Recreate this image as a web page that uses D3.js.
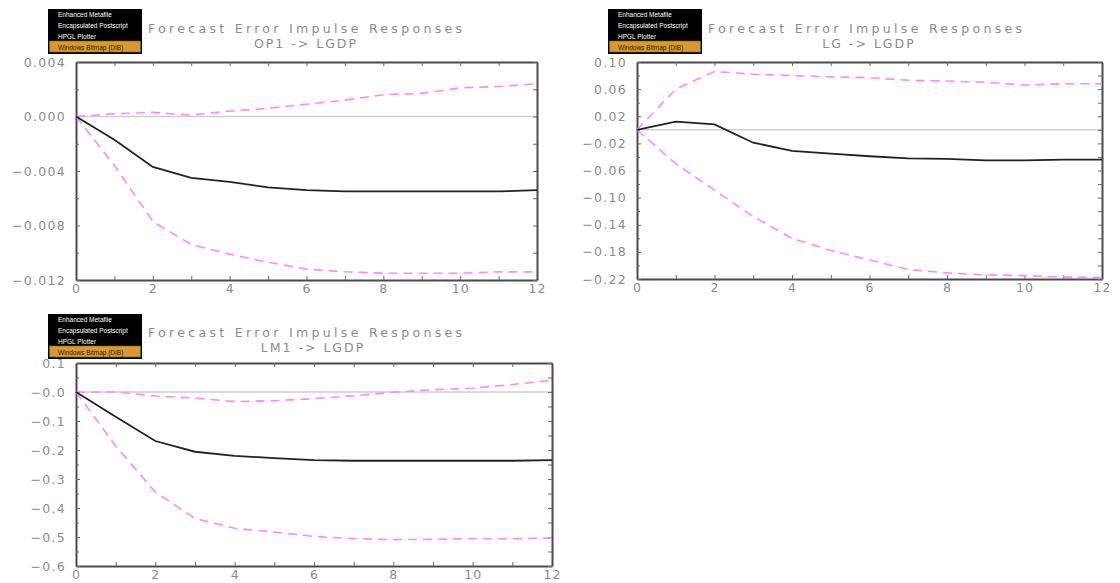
<!DOCTYPE html>
<html lang="en">
<head>
<meta charset="UTF-8" />
<title>Forecast Error Impulse Responses</title>
<script src="https://cdn.jsdelivr.net/npm/d3@7"></script>
<style>
html, body { margin: 0; padding: 0; background: #fff; }
#chart { display: block; }
.tick text, .lbl { font-family: "DejaVu Sans", sans-serif; fill: #8c8c8c; }
.menu text { font-family: "Liberation Sans Narrow", "Liberation Sans", sans-serif; font-size: 6.5px; }
</style>
</head>
<body>
<svg id="chart" width="1120" height="583"></svg>
<script>
// horizon (steps after shock)
const steps = [0, 1, 2, 3, 4, 5, 6, 7, 8, 9, 10, 11, 12];
const xTickLabels = ["0", "2", "4", "6", "8", "10", "12"];

// OP1 -> LGDP
const op1Resp = [0, -0.0017, -0.0037, -0.0045, -0.0048, -0.0052, -0.0054, -0.0055, -0.0055, -0.0055, -0.0055, -0.0055, -0.0054];
const op1Upper = [0, 0.0002, 0.0003, 0.0001, 0.0004, 0.0006, 0.0009, 0.0012, 0.0016, 0.0017, 0.0021, 0.0022, 0.0024];
const op1Lower = [0, -0.0036, -0.0077, -0.0094, -0.0101, -0.0107, -0.0112, -0.0114, -0.0115, -0.0115, -0.0115, -0.0114, -0.0114];
const op1Ticks = [0.004, 0.000, -0.004, -0.008, -0.012];
const op1TickLabels = ["0.004", "0.000", "\u22120.004", "\u22120.008", "\u22120.012"];

// LG -> LGDP
const lgResp = [0, 0.012, 0.008, -0.019, -0.031, -0.035, -0.039, -0.042, -0.043, -0.045, -0.045, -0.044, -0.044];
const lgUpper = [0, 0.060, 0.086, 0.082, 0.080, 0.078, 0.077, 0.073, 0.072, 0.070, 0.066, 0.068, 0.068];
const lgLower = [0, -0.050, -0.089, -0.128, -0.160, -0.178, -0.192, -0.206, -0.211, -0.214, -0.215, -0.217, -0.218];
const lgTicks = [0.10, 0.06, 0.02, -0.02, -0.06, -0.10, -0.14, -0.18, -0.22];
const lgTickLabels = ["0.10", "0.06", "0.02", "\u22120.02", "\u22120.06", "\u22120.10", "\u22120.14", "\u22120.18", "\u22120.22"];

// LM1 -> LGDP
const lm1Resp = [0, -0.085, -0.169, -0.206, -0.220, -0.228, -0.235, -0.237, -0.237, -0.237, -0.237, -0.237, -0.235];
const lm1Upper = [0, 0.0, -0.014, -0.021, -0.033, -0.030, -0.023, -0.013, -0.001, 0.008, 0.013, 0.026, 0.040];
const lm1Lower = [0, -0.186, -0.345, -0.436, -0.470, -0.483, -0.498, -0.506, -0.509, -0.508, -0.506, -0.506, -0.504];
const lm1Ticks = [0.1, 0.0, -0.1, -0.2, -0.3, -0.4, -0.5, -0.6];
const lm1TickLabels = ["0.1", "\u22120.0", "\u22120.1", "\u22120.2", "\u22120.3", "\u22120.4", "\u22120.5", "\u22120.6"];

const menuItems = ["Enhanced Metafile", "Encapsulated Postscript", "HPGL Plotter", "Windows Bitmap (DIB)"];

const panels = [
  {sub: "OP1 -> LGDP", resp: op1Resp, up: op1Upper, lo: op1Lower, ticks: op1Ticks, labels: op1TickLabels,
   minor: 0.002, box: [76, 62, 537, 280], title: [305, 29], subX: 306, menu: [48, 9]},
  {sub: "LG -> LGDP", resp: lgResp, up: lgUpper, lo: lgLower, ticks: lgTicks, labels: lgTickLabels,
   minor: 0.02, box: [637, 62, 1102, 279], title: [865, 29], subX: 869, menu: [608, 9]},
  {sub: "LM1 -> LGDP", resp: lm1Resp, up: lm1Upper, lo: lm1Lower, ticks: lm1Ticks, labels: lm1TickLabels,
   minor: 0.05, box: [76, 363, 552, 566], title: [305, 333], subX: 313, menu: [48, 314]}
];

const svg = d3.select('#chart');

function drawPanel(p) {
  const [x0, y0, x1, y1] = p.box;
  const ymax = d3.max(p.ticks), ymin = d3.min(p.ticks);
  const x = d3.scaleLinear().domain([0, 12]).range([x0, x1]);
  const y = d3.scaleLinear().domain([ymin, ymax]).range([y1, y0]);
  const g = svg.append('g');

  // minor + major tick values for y
  const n = Math.round((ymax - ymin) / p.minor);
  const yTicks = d3.range(n + 1).map(i => ymin + i * p.minor);
  const labelFor = v => {
    const k = p.ticks.findIndex(t => Math.abs(t - v) < p.minor / 10);
    return k >= 0 ? p.labels[k] : '';
  };
  const isMajor = v => labelFor(v) !== '';

  // zero line
  g.append('line').attr('x1', x0).attr('x2', x1).attr('y1', y(0)).attr('y2', y(0))
    .attr('stroke', '#cfcfcf').attr('stroke-width', 1.5);

  // axes (inward ticks on all sides)
  const bottom = g.append('g').attr('transform', `translate(0,${y1})`)
    .call(d3.axisBottom(x).tickValues(steps).tickSizeInner(-4).tickSizeOuter(0).tickPadding(4)
      .tickFormat(d => xTickLabels.includes(String(d)) ? String(d) : ''));
  const top = g.append('g').attr('transform', `translate(0,${y0})`)
    .call(d3.axisTop(x).tickValues(steps).tickSizeInner(-4).tickSizeOuter(0).tickFormat(''));
  const left = g.append('g').attr('transform', `translate(${x0},0)`)
    .call(d3.axisLeft(y).tickValues(yTicks).tickSizeInner(-4).tickSizeOuter(0).tickPadding(10)
      .tickFormat(labelFor));
  const right = g.append('g').attr('transform', `translate(${x1},0)`)
    .call(d3.axisRight(y).tickValues(yTicks).tickSizeInner(-4).tickSizeOuter(0).tickFormat(''));

  [bottom, top, left, right].forEach(a => {
    a.select('.domain').attr('stroke', '#4a4a4a').attr('stroke-width', 2);
    a.selectAll('.tick line').attr('stroke', '#6a6a6a').attr('stroke-width', 1);
  });
  left.selectAll('.tick line').attr('x2', d => isMajor(d) ? 4 : 3);
  bottom.selectAll('.tick text').attr('font-size', 12.5).attr('letter-spacing', 1).attr('fill', '#8c8c8c');
  left.selectAll('.tick text').attr('font-size', 12.5).attr('letter-spacing', 1.3).attr('fill', '#8c8c8c');

  // bands and response
  const line = d3.line().x((d, i) => x(steps[i])).y(d => y(d));
  [p.up, p.lo].forEach(s => {
    g.append('path').datum(s).attr('d', line).attr('fill', 'none')
      .attr('stroke', '#ff88ff').attr('stroke-width', 1.6).attr('stroke-dasharray', '9,6');
  });
  g.append('path').datum(p.resp).attr('d', line).attr('fill', 'none')
    .attr('stroke', '#222').attr('stroke-width', 1.8);

  // titles
  g.append('text').attr('class', 'lbl').attr('x', p.title[0] - 157).attr('y', p.title[1] + 4)
    .attr('font-size', 12.5).attr('textLength', 314).attr('lengthAdjust', 'spacing')
    .text('Forecast Error Impulse Responses');
  g.append('text').attr('class', 'lbl').attr('x', p.subX).attr('y', p.title[1] + 19)
    .attr('text-anchor', 'middle').attr('font-size', 12.5).attr('letter-spacing', 2)
    .text(p.sub);

  // export menu overlay
  const m = g.append('g').attr('class', 'menu').attr('transform', `translate(${p.menu[0]},${p.menu[1]})`);
  m.append('rect').attr('width', 94).attr('height', 45).attr('fill', '#000');
  m.append('rect').attr('x', 1.5).attr('y', 32).attr('width', 91).attr('height', 11)
    .attr('fill', '#d49a35').attr('stroke', '#8a5a10').attr('stroke-width', 0.6);
  m.selectAll('text.item').data(menuItems).enter().append('text').attr('class', 'item')
    .attr('x', 10).attr('y', (d, i) => 8 + i * 11)
    .attr('fill', (d, i) => i === 3 ? '#3a2200' : '#fff').text(d => d);
}

panels.forEach(drawPanel);
</script>
</body>
</html>
